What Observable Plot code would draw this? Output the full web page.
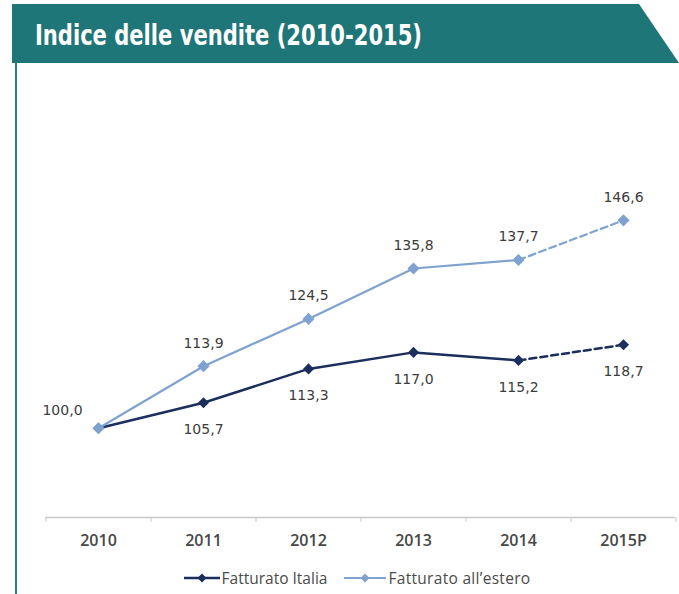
<!DOCTYPE html>
<html><head><meta charset="utf-8">
<script src="https://cdn.jsdelivr.net/npm/d3@7"></script>
<script src="https://cdn.jsdelivr.net/npm/@observablehq/plot@0.6"></script>
<style>
body{margin:0;background:#fff;}
#wrap{position:relative;width:679px;height:594px;overflow:hidden;background:#fff;}
#header{position:absolute;left:12px;top:4px;width:667px;height:59px;background:#1f7678;clip-path:polygon(0 0,627px 0,667px 59px,0 59px);}
#title{position:absolute;left:35px;top:21px;color:#fff;font-family:"Liberation Sans Narrow","DejaVu Sans Condensed","Liberation Sans",sans-serif;font-weight:bold;font-size:29px;line-height:28px;white-space:nowrap;transform-origin:0 50%;}
#vline{position:absolute;left:15px;top:63px;width:2px;height:531px;background:#2a7f80;}
#chart{position:absolute;left:0;top:0;}
#legend{position:absolute;left:34px;top:567px;width:645px;display:flex;justify-content:center;align-items:center;font-family:"Open Sans",sans-serif;font-size:15.5px;color:#4a4a4a;}
.item{display:flex;align-items:center;margin:0 8px;}
.item svg{margin-right:1px;}
.item + .item span{letter-spacing:0.3px;}
</style></head>
<body><div id="wrap">
<div id="header"></div>
<div id="title"></div>
<div id="vline"></div>
<div id="chart"></div>
<div id="legend"></div>
</div>
<script>
const title = "Indice delle vendite (2010-2015)";
const years = ["2010","2011","2012","2013","2014","2015P"];
const italia = [100.0, 105.7, 113.3, 117.0, 115.2, 118.7];
const estero = [100.0, 113.9, 124.5, 135.8, 137.7, 146.6];
const seriesNames = ["Fatturato Italia", "Fatturato all’estero"];
const lastActual = "2014";
const colors = ["#1b2e5c", "#7fa2cf"];

document.getElementById("title").textContent = title;

const W = 679, H = 560, mL = 45, mR = 4, mT = 160, mB = 43;
const step = (W - mL - mR) / years.length;
const cut = years.indexOf(lastActual);
const fmt = v => v.toFixed(1).replace(".", ",");

const mk = (vals, s) => vals.map((v, i) => ({year: years[i], value: v, series: seriesNames[s], i}));
const rowsI = mk(italia, 0), rowsE = mk(estero, 1);
const solid = r => r.filter(d => d.i <= cut);
const dashed = r => r.filter(d => d.i >= cut);

const chart = Plot.plot({
  width: W, height: H, marginTop: mT, marginBottom: mB, marginLeft: mL, marginRight: mR,
  style: {fontFamily: "Open Sans, sans-serif", background: "transparent"},
  x: {type: "point", domain: years, padding: 0.5},
  y: {domain: [80, 160], axis: null},
  marks: [
    Plot.ruleY([80], {stroke: "#c9c9c9", strokeWidth: 1.5}),
    Plot.ruleX(years, {x: d => d, dx: -step / 2, insetTop: H - mT - mB, insetBottom: -5, stroke: "#c9c9c9"}),
    Plot.ruleX([years[years.length - 1]], {x: d => d, dx: step / 2, insetTop: H - mT - mB, insetBottom: -5, stroke: "#c9c9c9"}),
    Plot.axisX({tickSize: 0, tickPadding: 17, fontSize: 16, fontWeight: 600, color: "#474747", label: null}),
    Plot.line(solid(rowsI), {x: "year", y: "value", stroke: colors[0], strokeWidth: 2.5}),
    Plot.line(dashed(rowsI), {x: "year", y: "value", stroke: colors[0], strokeWidth: 2.5, strokeDasharray: "7,4"}),
    Plot.dot(rowsI, {x: "year", y: "value", symbol: "diamond2", r: 5, fill: colors[0], stroke: "none"}),
    Plot.line(solid(rowsE), {x: "year", y: "value", stroke: colors[1], strokeWidth: 2.2}),
    Plot.line(dashed(rowsE), {x: "year", y: "value", stroke: colors[1], strokeWidth: 2.2, strokeDasharray: "7,4"}),
    Plot.dot(rowsE, {x: "year", y: "value", symbol: "diamond2", r: 5.5, fill: colors[1], stroke: "none"}),
    Plot.text(rowsI.slice(1), {x: "year", y: "value", text: d => fmt(d.value), dy: 27, fontSize: 14, fontFamily: "DejaVu Sans", fill: "#3c3c3c"}),
    Plot.text(rowsE.slice(1), {x: "year", y: "value", text: d => fmt(d.value), dy: -23, fontSize: 14, fontFamily: "DejaVu Sans", fill: "#3c3c3c"}),
    Plot.text(rowsI.slice(0, 1), {x: "year", y: "value", text: d => fmt(d.value), dx: -36, dy: -18, fontSize: 14, fontFamily: "DejaVu Sans", fill: "#3c3c3c"})
  ]
});
document.getElementById("chart").appendChild(chart);

// legend
const leg = document.getElementById("legend");
seriesNames.forEach((name, s) => {
  const item = document.createElement("div");
  item.className = "item";
  const sw = s === 0 ? 2.5 : 2;
  const lw = s === 0 ? 38 : 44;
  item.innerHTML = `<svg width="${lw}" height="12"><line x1="1" y1="6" x2="${lw - 1}" y2="6" stroke="${colors[s]}" stroke-width="${sw}"/><path d="M${lw/2},1.5L${lw/2+4.5},6L${lw/2},10.5L${lw/2-4.5},6Z" fill="${colors[s]}"/></svg><span>${name}</span>`;
  leg.appendChild(item);
});

// fit title width to reference
const t = document.getElementById("title");
const w = t.getBoundingClientRect().width;
t.style.transform = `scaleX(${387 / w})`;
</script>
</body></html>
